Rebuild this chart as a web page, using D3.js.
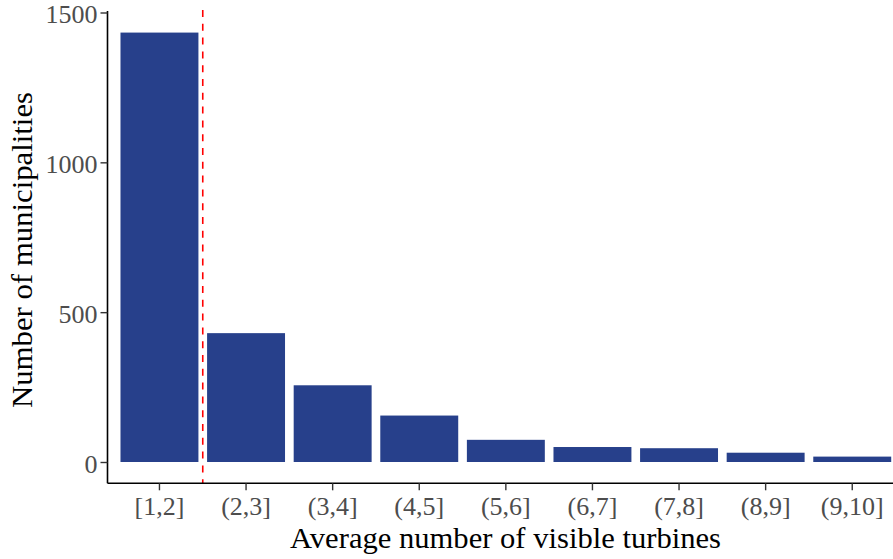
<!DOCTYPE html>
<html>
<head>
<meta charset="utf-8">
<script src="https://cdn.jsdelivr.net/npm/d3@7"></script>
<style>
  html, body { margin: 0; padding: 0; background: #fff; }
  svg { display: block; }
  text { font-family: "Liberation Serif", "Times New Roman", serif; }
</style>
</head>
<body>
<svg id="chart" width="893" height="559"></svg>
<script>
// ---- data ----
const categories = ["[1,2]", "(2,3]", "(3,4]", "(4,5]", "(5,6]", "(6,7]", "(7,8]", "(8,9]", "(9,10]"];
const counts = [1433, 430, 256, 155, 74, 50, 46, 31, 18];
const yTicks = [0, 500, 1000, 1500];
const thresholdPosition = 1.5; // in category units (1-based, between 1st and 2nd bar)
const xTitle = "Average number of visible turbines";
const yTitle = "Number of municipalities";

// ---- layout ----
const svg = d3.select("#chart");
const panel = { left: 107.5, right: 904.2, top: 11, bottom: 483.3 };

const x = d3.scaleBand()
  .domain(categories)
  .range([panel.left, panel.right])
  .paddingInner(0.1)
  .paddingOuter(0.15);

const y = d3.scaleLinear()
  .domain([0, 1500])
  .range([462, 12.5]);

const barColor = "#27408B";

// bars
svg.append("g").selectAll("rect")
  .data(categories.map((c, i) => ({ c, v: counts[i] })))
  .join("rect")
  .attr("x", d => x(d.c))
  .attr("width", x.bandwidth())
  .attr("y", d => y(d.v))
  .attr("height", d => y(0) - y(d.v))
  .attr("fill", barColor);

// threshold dashed line
const step = x.step();
const xCenter0 = x(categories[0]) + x.bandwidth() / 2;
const xThresh = xCenter0 + (thresholdPosition - 1) * step;
svg.append("line")
  .attr("x1", xThresh).attr("x2", xThresh)
  .attr("y1", panel.top - 1).attr("y2", panel.bottom)
  .attr("stroke", "#FF0000")
  .attr("stroke-width", 1.6)
  .attr("stroke-dasharray", "7,6.8");

// axes
const xAxis = d3.axisBottom(x).tickSize(7).tickPadding(6).tickSizeOuter(0);
const yAxis = d3.axisLeft(y).tickValues(yTicks).tickFormat(d3.format("d")).tickSize(7).tickPadding(3).tickSizeOuter(0);

const gx = svg.append("g").attr("transform", `translate(0,${panel.bottom})`).call(xAxis);
gx.select(".domain").attr("d", `M${panel.left},0H${panel.right}`).attr("stroke", "#000").attr("stroke-width", 1.6);
gx.selectAll(".tick line").attr("stroke", "#333").attr("stroke-width", 1.4);
gx.selectAll(".tick text").attr("fill", "#4D4D4D").style("font-size", "26px").attr("dy", "0.72em");

const gy = svg.append("g").attr("transform", `translate(${panel.left},0)`).call(yAxis);
gy.select(".domain").attr("d", `M0,${panel.top}V${panel.bottom}`).attr("stroke", "#000").attr("stroke-width", 1.6);
gy.selectAll(".tick line").attr("stroke", "#333").attr("stroke-width", 1.4);
gy.selectAll(".tick text").attr("fill", "#4D4D4D").style("font-size", "26px").attr("dy", "0.4em");

// titles
svg.append("text")
  .attr("x", 505.5).attr("y", 548)
  .attr("text-anchor", "middle")
  .style("font-size", "29px")
  .attr("textLength", 431)
  .attr("lengthAdjust", "spacingAndGlyphs")
  .attr("fill", "#000")
  .text(xTitle);

svg.append("text")
  .attr("transform", `translate(32,250) rotate(-90)`)
  .attr("text-anchor", "middle")
  .style("font-size", "29px")
  .attr("textLength", 316)
  .attr("lengthAdjust", "spacingAndGlyphs")
  .attr("fill", "#000")
  .text(yTitle);
</script>
</body>
</html>
